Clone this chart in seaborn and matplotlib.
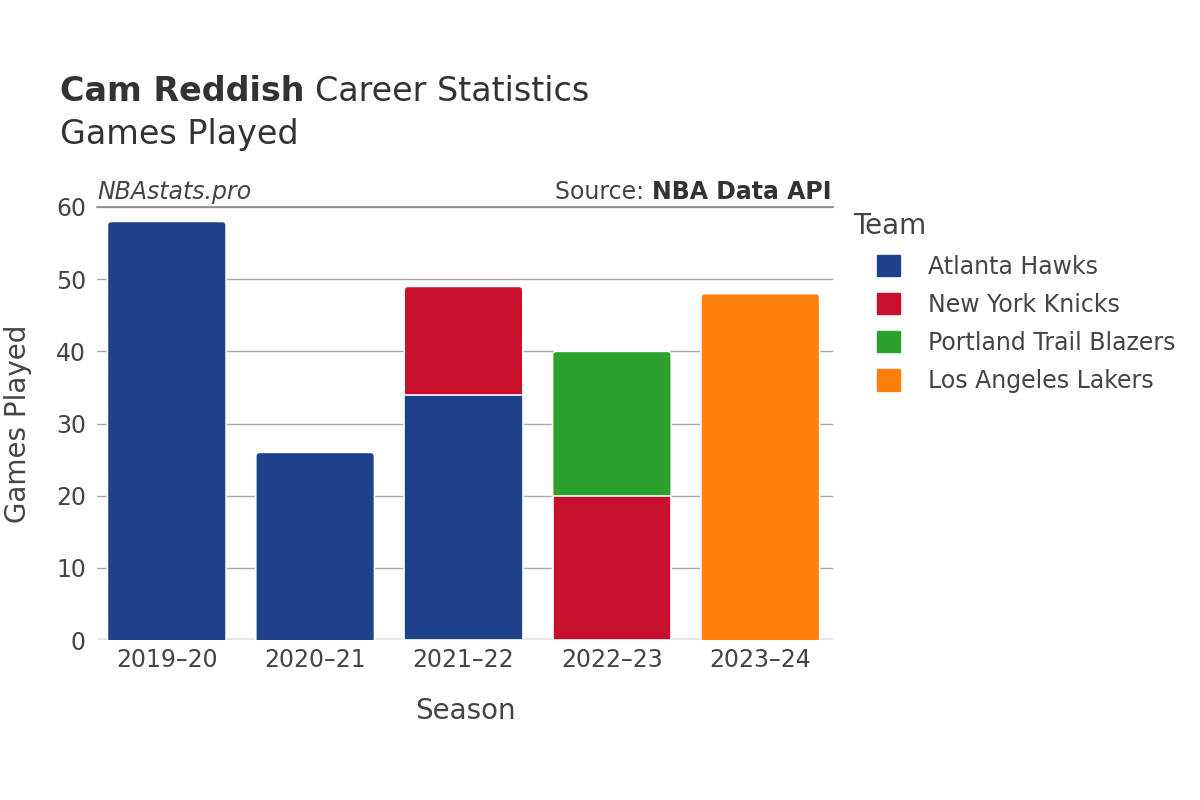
import numpy as np
import pandas as pd
import matplotlib
matplotlib.use("Agg")
import matplotlib.pyplot as plt
from matplotlib.patches import Patch, FancyBboxPatch
import seaborn as sns

seasons = ["2019–20", "2020–21", "2021–22", "2022–23", "2023–24"]
teams = ["Atlanta Hawks", "New York Knicks", "Portland Trail Blazers", "Los Angeles Lakers"]
colors = ["#1d428a", "#c8102e", "#2ca02c", "#ff7f0e"]

# games per team and season (stacked in team order)
atl = [58, 26, 34, 0, 0]
nyk = [0, 0, 15, 20, 0]
por = [0, 0, 0, 20, 0]
lal = [0, 0, 0, 0, 48]
games = [atl, nyk, por, lal]

sns.set_theme(style="white")
plt.rcParams["font.family"] = ["DejaVu Sans"]
txt = "#444444"

fig = plt.figure(figsize=(12, 8), dpi=100)
ax = fig.add_axes([97 / 1200, 0.2, (833 - 97) / 1200, (640 - 207) / 800])
ax.set_ylim(0, 60)
ax.set_xlim(-0.47, 4.49)

# corner radius of ~4 px in data units
rx = 4 * 4.96 / 736
ry = 4 * 60 / 433

# stacked bars: draw cumulative totals from the top layer down
arr = np.array(games)
cum = np.cumsum(arr, axis=0)
total = cum[-1]
for i in range(len(teams) - 1, -1, -1):
    df = pd.DataFrame({"season": seasons, "top": cum[i], "own": games[i]})
    df = df[df["own"] > 0]
    n0 = len(ax.patches)
    sns.barplot(data=df, x="season", y="top", order=seasons, color=colors[i],
                saturation=1, width=0.8, edgecolor="white", linewidth=1.2,
                ax=ax, zorder=3)
    # round the top corners of the uppermost segment of each bar
    for p in list(ax.patches[n0:]):
        x, w, h = p.get_x(), p.get_width(), p.get_height()
        if not np.isclose(h, total).any():
            continue
        p.remove()
        fb = FancyBboxPatch((x, -ry), w, h + ry,
                            boxstyle=f"round,pad=0,rounding_size={rx}",
                            mutation_aspect=ry / rx, facecolor=colors[i],
                            edgecolor="white", linewidth=1.2, zorder=3)
        ax.add_patch(fb)

ax.set_ylim(0, 60)
ax.set_xlim(-0.47, 4.49)
ax.set_yticks(range(0, 61, 10))
ax.grid(axis="y", color="#a8a8a8", linewidth=1, zorder=0)
ax.set_axisbelow(True)
for s in ["left", "right", "bottom"]:
    ax.spines[s].set_visible(False)
ax.spines["top"].set_color("#888888")
ax.spines["top"].set_linewidth(1.2)
ax.axhline(0, color="#e6e6e6", linewidth=3, zorder=2)

ax.tick_params(axis="both", labelsize=17, colors=txt, length=0)
ax.tick_params(axis="y", pad=8)
ax.tick_params(axis="x", pad=6)
ax.set_xlabel("Season", fontsize=20, color=txt, labelpad=18)
ax.set_ylabel("Games Played", fontsize=20, color=txt, labelpad=17)

# titles
fig.canvas.draw()
r = fig.canvas.get_renderer()
t1 = fig.text(60 / 1200, 1 - 101 / 800, "Cam Reddish", fontsize=24, fontweight="bold",
              color="#333333", va="baseline", ha="left")
bb = t1.get_window_extent(renderer=r)
fig.text(bb.x1 / 1200 + 0.009, 1 - 101 / 800, "Career Statistics", fontsize=24,
         color="#333333", va="baseline", ha="left")
fig.text(60 / 1200, 1 - 144 / 800, "Games Played", fontsize=24, color="#333333",
         va="baseline", ha="left")

fig.text(97 / 1200, 1 - 199 / 800, "NBAstats.pro", fontsize=17, style="italic",
         color=txt, va="baseline", ha="left")
t2 = fig.text(831 / 1200, 1 - 199 / 800, "NBA Data API", fontsize=17, fontweight="bold",
              color="#333333", va="baseline", ha="right")
bb2 = t2.get_window_extent(renderer=r)
fig.text(bb2.x0 / 1200, 1 - 199 / 800, "Source: ", fontsize=17, color=txt,
         va="baseline", ha="right")

# legend
fig.text(853 / 1200, 1 - 226 / 800, "Team", fontsize=20, color=txt,
         va="center", ha="left")
handles = [Patch(facecolor=c, edgecolor=c, label=t) for c, t in zip(colors, teams)]
leg = fig.legend(handles=handles, loc="upper left",
                 bbox_to_anchor=(860 / 1200, 1 - 238 / 800), frameon=False,
                 fontsize=17, handlelength=1.0, handleheight=1.0,
                 handletextpad=1.2, labelspacing=0.6, borderpad=0.2)
for t in leg.get_texts():
    t.set_color(txt)

fig.savefig("out.png", dpi=100)
